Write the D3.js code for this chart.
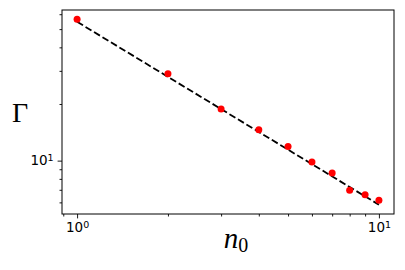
<!DOCTYPE html>
<html lang="en">
    <head>
        <meta charset="utf-8">
        <title>Gamma vs n0</title>
        <script type="text/javascript" src="https://cdn.jsdelivr.net/npm/d3@7/dist/d3.min.js"></script>
        <style>
            body { margin: 0; background: white; }
            text { font-family: "DejaVu Sans", sans-serif; }
        </style>
    </head>

    <body>
        <script type="text/javascript">

            // measured points (n0, Gamma)
            var n0_values = [1, 2, 3, 4, 5, 6, 7, 8, 9, 10];
            var gamma_values = [56.4, 29.0, 18.8, 14.6, 11.9, 9.84, 8.6, 6.95, 6.59, 6.15];

            // dashed power-law fit, end points
            var fit_n0 = [1, 10];
            var fit_gamma = [54.7, 5.83];

            // decade labels
            var x_major = [1, 10];
            var x_major_exp = ["0", "1"];
            var y_major = [10];
            var y_major_exp = ["1"];

            var width = 405, height = 270;
            var margin = {left: 62, right: 11, top: 10, bottom: 56};
            var plot_w = width - margin.left - margin.right;
            var plot_h = height - margin.top - margin.bottom;

            // log-space 5% margins, like matplotlib
            function padded(values) {
                var lo = Math.log10(d3.min(values)), hi = Math.log10(d3.max(values));
                var pad = (hi - lo) * 0.05;
                return [Math.pow(10, lo - pad), Math.pow(10, hi + pad)];
            }

            var x = d3.scaleLog()
                .domain(padded(n0_values.concat(fit_n0)))
                .range([0, plot_w]);
            var y = d3.scaleLog()
                .domain(padded(gamma_values.concat(fit_gamma)))
                .range([plot_h, 0]);

            var svg = d3.select("body")
                .append("svg")
                .attr("width", width)
                .attr("height", height);

            var g = svg.append("g")
                .attr("transform", "translate(" + margin.left + "," + margin.top + ")");

            // minor ticks
            var x_minor = x.ticks().filter(function(d) { return x_major.indexOf(d) < 0; });
            var y_minor = y.ticks().filter(function(d) { return y_major.indexOf(d) < 0; });

            g.append("g")
                .attr("transform", "translate(0," + plot_h + ")")
                .call(d3.axisBottom(x).tickValues(x_minor).tickSize(2.5).tickFormat(""))
                .call(function(s) { s.select(".domain").remove(); });
            g.append("g")
                .call(d3.axisLeft(y).tickValues(y_minor).tickSize(2.5).tickFormat(""))
                .call(function(s) { s.select(".domain").remove(); });

            // major ticks with 10^k labels
            var xax = g.append("g")
                .attr("transform", "translate(0," + plot_h + ")")
                .call(d3.axisBottom(x).tickValues(x_major).tickSize(4.4).tickPadding(4).tickFormat(""));
            xax.select(".domain").remove();
            xax.selectAll(".tick text")
                .attr("font-size", 13.5)
                .attr("fill", "black")
                .each(function(d, i) {
                    var t = d3.select(this);
                    t.append("tspan").text("10");
                    t.append("tspan").attr("dy", "-0.45em").attr("font-size", 9.5).text(x_major_exp[i]);
                });

            var yax = g.append("g")
                .call(d3.axisLeft(y).tickValues(y_major).tickSize(4.4).tickPadding(4).tickFormat(""));
            yax.select(".domain").remove();
            yax.selectAll(".tick text")
                .attr("font-size", 13.5)
                .attr("fill", "black")
                .each(function(d, i) {
                    var t = d3.select(this);
                    t.append("tspan").text("10");
                    t.append("tspan").attr("dy", "-0.45em").attr("font-size", 9.5).text(y_major_exp[i]);
                });

            g.selectAll(".tick line").attr("stroke", "black").attr("stroke-width", 0.9);

            // frame
            g.append("rect")
                .attr("width", plot_w)
                .attr("height", plot_h)
                .attr("fill", "none")
                .attr("stroke", "black")
                .attr("stroke-width", 1);

            // fit line
            var line = d3.line()
                .x(function(d) { return x(d[0]); })
                .y(function(d) { return y(d[1]); });
            g.append("path")
                .datum(d3.zip(fit_n0, fit_gamma))
                .attr("d", line)
                .attr("fill", "none")
                .attr("stroke", "black")
                .attr("stroke-width", 1.8)
                .attr("stroke-dasharray", "6.9,3");

            // data points
            g.selectAll("circle")
                .data(d3.zip(n0_values, gamma_values))
                .enter()
                .append("circle")
                .attr("cx", function(d) { return x(d[0]); })
                .attr("cy", function(d) { return y(d[1]); })
                .attr("r", 3.5)
                .attr("fill", "red");

            // axis labels
            svg.append("text")
                .attr("x", 20)
                .attr("y", 122)
                .attr("text-anchor", "middle")
                .attr("font-size", 28)
                .style("font-family", "'Liberation Serif', serif")
                .text("Γ");

            var xl = svg.append("text")
                .attr("x", 236)
                .attr("y", 248)
                .attr("text-anchor", "middle")
                .style("font-family", "'Liberation Serif', serif")
                .attr("font-size", 29);
            xl.append("tspan").attr("font-style", "italic").text("n");
            xl.append("tspan").attr("dy", 4).attr("font-size", 20).text("0");
        </script>
    </body>
</html>
